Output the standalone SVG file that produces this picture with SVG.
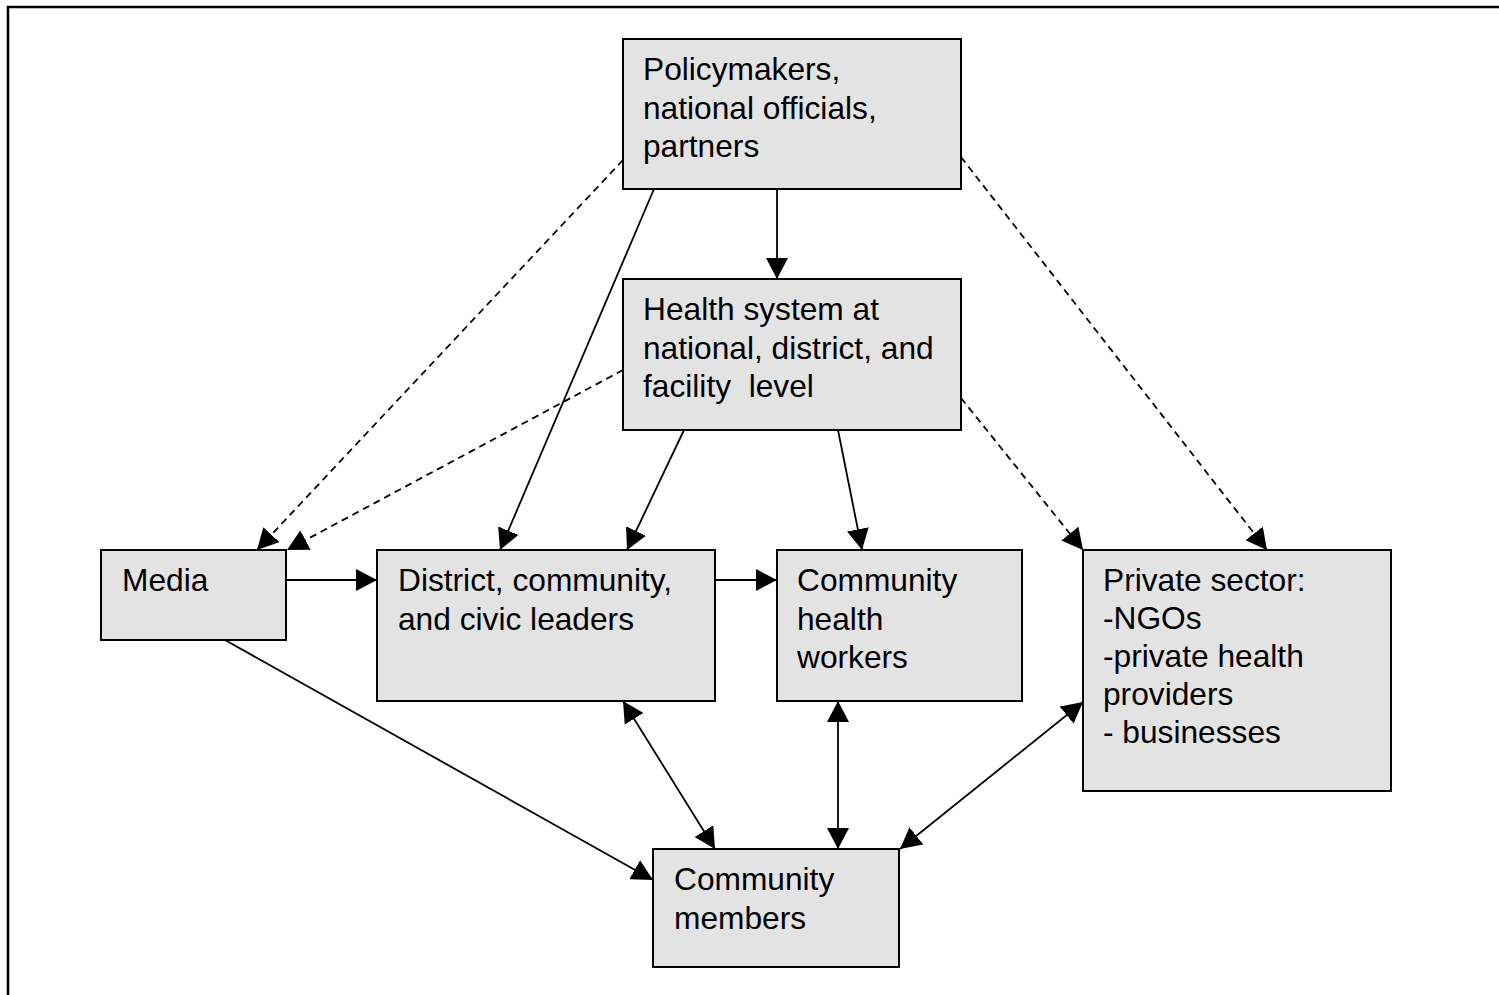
<svg xmlns="http://www.w3.org/2000/svg" width="1499" height="995" viewBox="0 0 1499 995">
<style>
.box{fill:#e3e3e3;stroke:#000;stroke-width:2}
.t{font-family:"Liberation Sans",Arial,sans-serif;font-size:31.7px;fill:#000}
.c{stroke:#000;stroke-width:1.8;fill:none}
.d{stroke-dasharray:7 5}
</style>
<defs>
<marker id="ah" markerUnits="userSpaceOnUse" markerWidth="21" markerHeight="22" refX="21" refY="11" orient="auto-start-reverse" viewBox="0 0 21 22">
<path d="M0,0 L21,11 L0,22 z" fill="#000"/>
</marker>
</defs>
<rect width="1499" height="995" fill="#fff"/>
<path d="M8,995 V7 H1499" stroke="#000" stroke-width="2.5" fill="none"/>
<g id="connectors">
<line class="c" x1="777" y1="189" x2="777" y2="279" marker-end="url(#ah)"/>
<line class="c" x1="654" y1="189" x2="500" y2="550" marker-end="url(#ah)"/>
<line class="c d" x1="623" y1="160" x2="257" y2="550" marker-end="url(#ah)"/>
<line class="c d" x1="623" y1="370" x2="287" y2="550" marker-end="url(#ah)"/>
<line class="c d" x1="961" y1="157" x2="1267" y2="550" marker-end="url(#ah)"/>
<line class="c d" x1="961" y1="398" x2="1083" y2="550" marker-end="url(#ah)"/>
<line class="c" x1="684" y1="430" x2="627" y2="550" marker-end="url(#ah)"/>
<line class="c" x1="838" y1="430" x2="862" y2="550" marker-end="url(#ah)"/>
<line class="c" x1="286" y1="580" x2="377" y2="580" marker-end="url(#ah)"/>
<line class="c" x1="715" y1="580" x2="777" y2="580" marker-end="url(#ah)"/>
<line class="c" x1="225" y1="640" x2="653" y2="880" marker-end="url(#ah)"/>
<line class="c" x1="623" y1="701" x2="715" y2="849" marker-start="url(#ah)" marker-end="url(#ah)"/>
<line class="c" x1="838" y1="701" x2="838" y2="849" marker-start="url(#ah)" marker-end="url(#ah)"/>
<line class="c" x1="1083" y1="702" x2="900" y2="849" marker-start="url(#ah)" marker-end="url(#ah)"/>
</g>
<g id="policymakers">
<rect class="box" x="623" y="39" width="338" height="150"/>
<text class="t" x="643" y="80">Policymakers,</text>
<text class="t" x="643" y="118.5">national officials,</text>
<text class="t" x="643" y="157">partners</text>
</g>
<g id="health-system">
<rect class="box" x="623" y="279" width="338" height="151"/>
<text class="t" x="643" y="320">Health system at</text>
<text class="t" x="643" y="358.5">national, district, and</text>
<text class="t" x="643" y="397" xml:space="preserve">facility  level</text>
</g>
<g id="media">
<rect class="box" x="101" y="550" width="185" height="90"/>
<text class="t" x="122" y="591">Media</text>
</g>
<g id="leaders">
<rect class="box" x="377" y="550" width="338" height="151"/>
<text class="t" x="398" y="591">District, community,</text>
<text class="t" x="398" y="629.5">and civic leaders</text>
</g>
<g id="chw">
<rect class="box" x="777" y="550" width="245" height="151"/>
<text class="t" x="797" y="591">Community</text>
<text class="t" x="797" y="629.5">health</text>
<text class="t" x="797" y="668">workers</text>
</g>
<g id="private-sector">
<rect class="box" x="1083" y="550" width="308" height="241"/>
<text class="t" x="1103" y="591">Private sector:</text>
<text class="t" x="1103" y="629">-NGOs</text>
<text class="t" x="1103" y="667">-private health</text>
<text class="t" x="1103" y="705">providers</text>
<text class="t" x="1103" y="743">- businesses</text>
</g>
<g id="community-members">
<rect class="box" x="653" y="849" width="246" height="118"/>
<text class="t" x="674" y="890">Community</text>
<text class="t" x="674" y="928.5">members</text>
</g>
</svg>
